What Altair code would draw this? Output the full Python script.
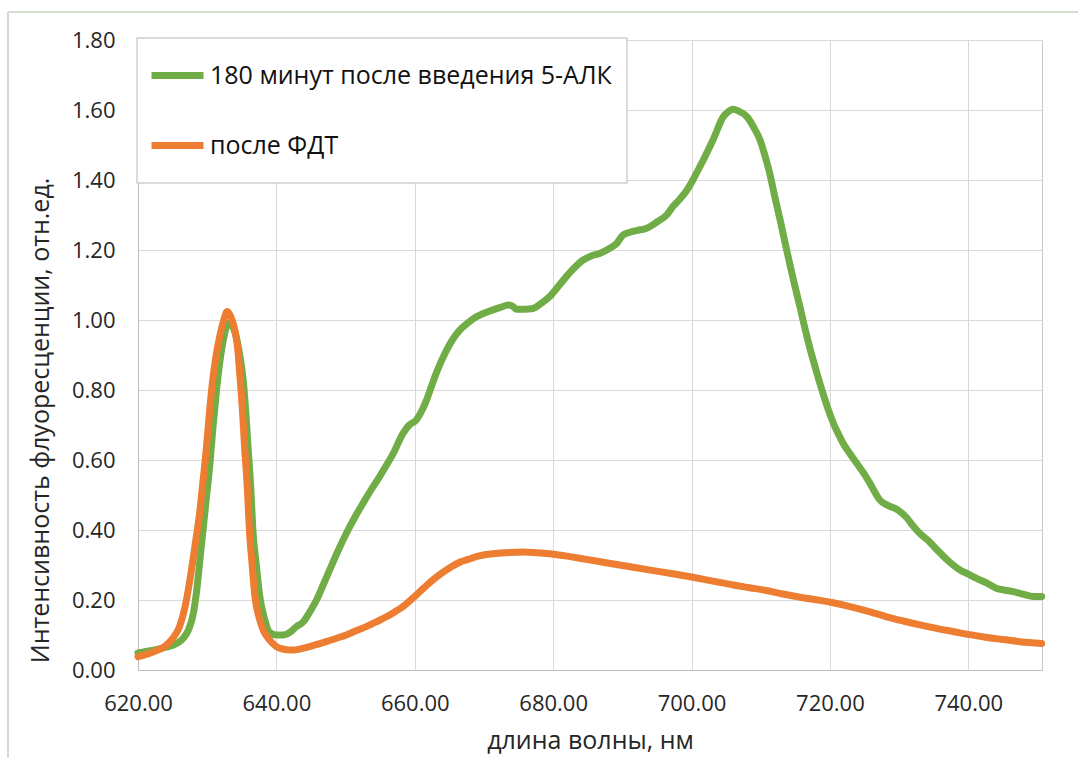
import altair as alt
import pandas as pd

# ---- data ----
series_names = ["180 минут после введения 5-АЛК", "после ФДТ"]
series_colors = ["#70AD47", "#ED7D31"]

green_x = [620, 622, 624, 625.5, 626.5, 627.3, 628.0, 628.5, 628.9, 629.4, 629.9, 630.4,
           630.8, 631.3, 631.8, 632.4, 633.0, 633.5, 634.2, 634.7, 635.2, 635.6, 635.9,
           636.3, 636.6, 637.1, 637.6, 638.3, 639.0, 640.0, 641.0, 642.0, 642.9, 643.9,
           644.8, 645.8, 646.7, 647.7, 648.9, 650.1, 651.3, 652.5, 653.7, 654.9, 655.9,
           656.9, 658.3, 659.2, 660.2, 661.0, 661.7, 662.4, 663.1, 664.6, 665.5, 666.5,
           667.7, 668.9, 670.1, 671.3, 672.4, 673.5, 674.1, 674.7, 675.9, 677.1, 678.3,
           679.5, 680.7, 681.9, 683.1, 684.3, 685.5, 686.7, 688.0, 689.2, 690.1, 691.0,
           692.2, 693.5, 695.0, 696.4, 697.3, 698.3, 699.3, 700.2, 700.7, 701.9, 703.1,
           704.6, 705.3, 706.0, 706.8, 708.0, 709.0, 709.9, 710.6, 711.3, 712.0, 712.8,
           713.5, 714.2, 714.9, 715.7, 716.4, 717.1, 717.8, 718.5, 719.2, 719.8, 720.5,
           721.2, 721.9, 722.9, 723.9, 724.9, 725.8, 726.5, 727.2, 728.4, 729.6, 730.4,
           731.1, 732.0, 733.0, 734.2, 735.4, 737.1, 738.8, 740.0, 741.2, 742.7, 744.1,
           745.3, 746.5, 748.0, 749.4, 750.6]
green_y = [0.049, 0.056, 0.065, 0.075, 0.09, 0.115, 0.162, 0.23, 0.305, 0.40, 0.495, 0.59,
           0.686, 0.79, 0.876, 0.95, 0.99, 0.985, 0.952, 0.90, 0.829, 0.73, 0.638,
           0.52, 0.40, 0.30, 0.21, 0.145, 0.108, 0.10, 0.10, 0.108, 0.124, 0.138,
           0.165, 0.20, 0.24, 0.286, 0.34, 0.39, 0.435, 0.476, 0.515, 0.552, 0.585,
           0.619, 0.676, 0.70, 0.714, 0.74, 0.771, 0.81, 0.848, 0.914, 0.945, 0.971,
           0.992, 1.009, 1.02, 1.029, 1.036, 1.043, 1.04, 1.031, 1.031, 1.033, 1.048,
           1.067, 1.095, 1.124, 1.15, 1.171, 1.183, 1.19, 1.203, 1.219, 1.243, 1.25,
           1.256, 1.262, 1.28, 1.30, 1.324, 1.345, 1.37, 1.40, 1.419, 1.465, 1.514,
           1.581, 1.595, 1.602, 1.597, 1.581, 1.55, 1.514, 1.47, 1.419, 1.355, 1.286,
           1.222, 1.16, 1.10, 1.035, 0.975, 0.92, 0.87, 0.822, 0.778, 0.742, 0.705,
           0.675, 0.648, 0.618, 0.59, 0.562, 0.533, 0.508, 0.486, 0.47, 0.46, 0.448,
           0.435, 0.412, 0.39, 0.37, 0.345, 0.312, 0.286, 0.274, 0.262, 0.248, 0.233,
           0.228, 0.224, 0.216, 0.21, 0.21]

orange_x = [620, 622, 624.1, 625.0, 626.0, 626.8, 627.5, 628.2, 628.9, 629.4, 629.9, 630.3,
            630.8, 631.3, 631.8, 632.4, 632.9, 633.5, 634.0, 634.4, 634.7, 635.1, 635.4,
            635.8, 636.1, 636.5, 636.9, 637.5, 638.1, 639.0, 640.0, 640.5, 641.5, 642.4,
            643.6, 644.8, 646.0, 647.2, 648.6, 650.1, 651.5, 653.0, 654.5, 655.9, 657.1,
            658.3, 659.2, 660.2, 661.4, 662.6, 664.0, 665.3, 666.5, 667.7, 668.9, 671.3,
            673.7, 675.7, 677.6, 680.0, 682.4, 684.8, 687.2, 689.6, 692.0, 694.5, 697.3,
            700.2, 703.1, 706.0, 708.4, 710.8, 713.2, 715.7, 718.6, 720.5, 722.9, 725.8,
            728.2, 730.6, 733.0, 735.4, 737.8, 740.2, 742.7, 745.1, 747.5, 750.6]
orange_y = [0.038, 0.05, 0.071, 0.09, 0.124, 0.18, 0.257, 0.35, 0.448, 0.54, 0.638, 0.73,
            0.829, 0.90, 0.952, 1.0, 1.024, 1.005, 0.971, 0.92, 0.848, 0.74, 0.638,
            0.52, 0.40, 0.30, 0.21, 0.15, 0.114, 0.086, 0.067, 0.062, 0.058, 0.057,
            0.061, 0.067, 0.074, 0.081, 0.09, 0.10, 0.112, 0.124, 0.138, 0.152, 0.166,
            0.181, 0.196, 0.214, 0.236, 0.257, 0.278, 0.295, 0.308, 0.316, 0.324, 0.332,
            0.336, 0.337, 0.335, 0.331, 0.324, 0.316, 0.308, 0.30, 0.292, 0.284, 0.275,
            0.265, 0.254, 0.243, 0.235, 0.227, 0.217, 0.208, 0.199, 0.192, 0.181, 0.166,
            0.152, 0.14, 0.129, 0.119, 0.11, 0.101, 0.093, 0.087, 0.081, 0.076]

x_ticks = [620, 640, 660, 680, 700, 720, 740]
y_ticks = [0.0, 0.2, 0.4, 0.6, 0.8, 1.0, 1.2, 1.4, 1.6, 1.8]

x_title = "длина волны, нм"
y_title = "Интенсивность флуоресценции, отн.ед."

# ---- table ----
rows = []
for i, (xs, ys) in enumerate([(green_x, green_y), (orange_x, orange_y)]):
    for k, (a, b) in enumerate(zip(xs, ys)):
        rows.append({"wl": a, "val": b, "series": series_names[i], "order": k})
df = pd.DataFrame(rows)

FONT = "Open Sans"
TXT = "#262626"

lines = alt.Chart(df).mark_line(strokeWidth=7, interpolate="monotone", strokeCap="round").encode(
    x=alt.X("wl:Q",
            scale=alt.Scale(domain=[620, 750.65], nice=False, zero=False),
            axis=alt.Axis(values=x_ticks, format=".2f", title=x_title, ticks=False,
                          labelFlush=False, labelPadding=23, titlePadding=14,
                          labelFontSize=22, titleFontSize=25, gridColor="#d9d9d9",
                          domainColor="#bfbfbf", labelFont=FONT, titleFont=FONT,
                          labelColor=TXT, titleColor=TXT, titleFontWeight="normal")),
    y=alt.Y("val:Q",
            scale=alt.Scale(domain=[0, 1.8], nice=False),
            axis=alt.Axis(values=y_ticks, format=".2f", title=y_title, ticks=False,
                          labelFlush=False, labelPadding=23, titlePadding=18, titleY=380,
                          labelFontSize=22, titleFontSize=25, gridColor="#d9d9d9",
                          domainColor="#bfbfbf", labelFont=FONT, titleFont=FONT,
                          labelColor=TXT, titleColor=TXT, titleFontWeight="normal")),
    color=alt.Color("series:N",
                    scale=alt.Scale(domain=series_names, range=series_colors),
                    legend=alt.Legend(title=None, orient="none", legendX=0, legendY=-4,
                                      symbolType="stroke", symbolSize=2700,
                                      symbolStrokeWidth=7, labelFontSize=25,
                                      labelFont=FONT, labelColor="#111111",
                                      labelLimit=700, labelOffset=3,
                                      rowPadding=26, padding=10)),
    order=alt.Order("order:Q"),
)

one = pd.DataFrame({"k": [0]})
legend_box = alt.Chart(one).mark_rect(fill="white", stroke="#d0d0d0", strokeWidth=1.5).encode(
    x=alt.value(-1), x2=alt.value(489), y=alt.value(-2), y2=alt.value(143))
top_rule = alt.Chart(one).mark_rule(color="#d3dfcb", strokeWidth=2).encode(
    x=alt.value(-130), x2=alt.value(940), y=alt.value(-28))
left_rule = alt.Chart(one).mark_rule(color="#d6d6d6", strokeWidth=2).encode(
    x=alt.value(-130), y=alt.value(-28), y2=alt.value(718))

chart = alt.layer(lines, legend_box, top_rule, left_rule).properties(
    width=904, height=630,
    autosize=alt.AutoSizeParams(type="none"),
    padding={"left": 138, "top": 40, "right": 36, "bottom": 88},
    background="white",
).configure_view(stroke="#c8c8c8", strokeWidth=1)

chart.save("out.html", embed_options={"renderer": "svg", "actions": False})
